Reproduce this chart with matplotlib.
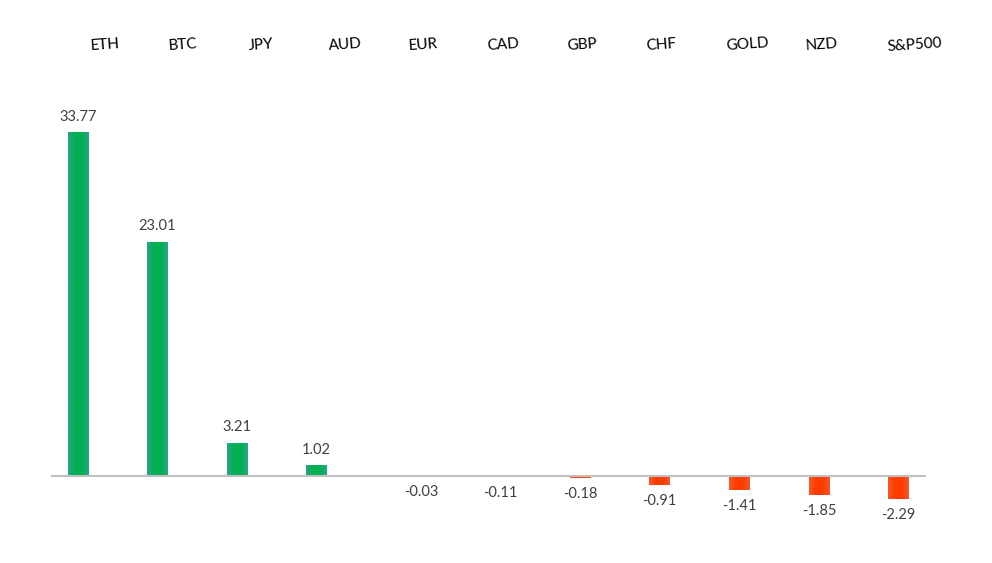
import numpy as np
import matplotlib.pyplot as plt
from matplotlib.colors import LinearSegmentedColormap

# data
assets = ["ETH", "BTC", "JPY", "AUD", "EUR", "CAD", "GBP", "CHF", "GOLD", "NZD", "S&P500"]
change = [33.77, 23.01, 3.21, 1.02, -0.03, -0.11, -0.18, -0.91, -1.41, -1.85, -2.29]

# layout (figure pixels, x axis runs 0..992)
bar_x = [78, 157.5, 237, 316.5, 421, 500, 580, 659.5, 739.5, 819, 898]
head_x = [105, 183, 261, 345, 423, 503, 582, 661, 747, 822, 915]
bar_w = 20.5

W, H = 992, 563
fig = plt.figure(figsize=(W/100, H/100), dpi=100)
ax = fig.add_axes([0, 0, 1, 1])
ax.set_axis_off()

px = 10.16           # pixels per unit
base = 476           # baseline, pixels from the top
ax.set_xlim(0, W)
ax.set_ylim(-(H - base)/px, base/px)

green = LinearSegmentedColormap.from_list("g", ["#2aa48c", "#00b050", "#00b050", "#2aa48c"])
red = LinearSegmentedColormap.from_list("r", ["#f2592a", "#ff3c00", "#ff3c00", "#f2592a"])
grad = np.linspace(0, 1, 64).reshape(1, -1)

for x, v in zip(bar_x, change):
    cm = green if v >= 0 else red
    ax.imshow(grad, cmap=cm, aspect="auto", interpolation="bicubic",
              extent=(x - bar_w/2, x + bar_w/2, min(0, v), max(0, v)), zorder=2)
    off = 11.5 if v >= 0 else -11.5
    ax.annotate(f"{v:.2f}", (x, v), xytext=(0, off), textcoords="offset points",
                ha="center", va="center", fontsize=10.5, family="Lato", color="#404040")

ax.plot([51, 926], [0, 0], color="#bfbfbf", lw=1.5, zorder=3, solid_capstyle="butt")

top_y = (base - 45)/px
for x, name in zip(head_x, assets):
    ax.text(x, top_y, name, ha="center", va="center", fontsize=11, family="Lato",
            color="black", rotation=4)

ax.set_xlim(0, W)
ax.set_ylim(-(H - base)/px, base/px)
fig.savefig("out.png", dpi=100)
